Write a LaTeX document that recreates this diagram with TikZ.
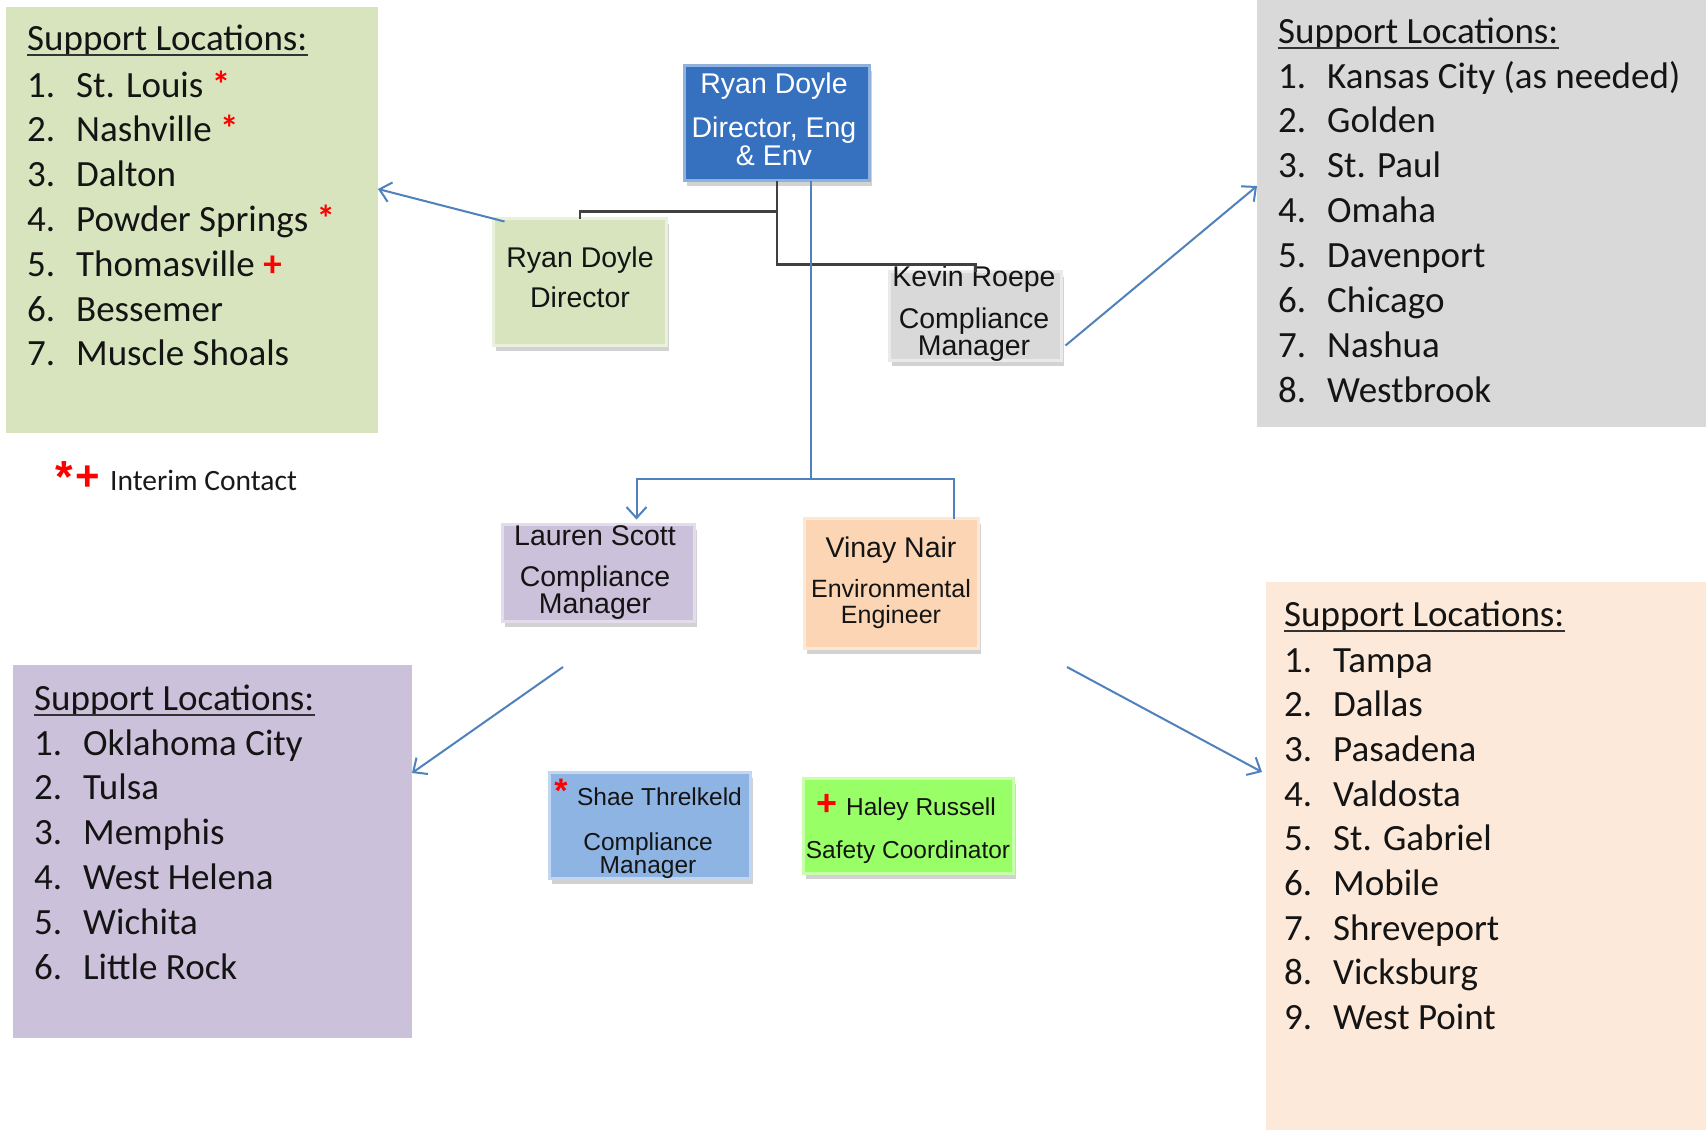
\documentclass[tikz,border=0pt]{standalone}
\usepackage{fontspec}
\usetikzlibrary{arrows.meta,calc,shadows}
\newfontfamily\listfont{Carlito}
\newfontfamily\boxfont{Liberation Sans}
\definecolor{glistc}{HTML}{D7E4BD}
\definecolor{greyc}{HTML}{D9D9D9}
\definecolor{plistc}{HTML}{CCC1DA}
\definecolor{peachc}{HTML}{FDE9D9}
\definecolor{bossc}{HTML}{3571BF}
\definecolor{vinayc}{HTML}{FCD5B5}
\definecolor{shaec}{HTML}{8EB4E3}
\definecolor{haleyc}{HTML}{99FF66}
\definecolor{linkc}{HTML}{4F81BD}
\definecolor{treec}{HTML}{404040}
\newcommand\mkast{\textcolor{red}{\textbf{*}}}
\newcommand\mkplus{\textcolor{red}{\textbf{+}}}
\begin{document}
\begin{tikzpicture}[x=1pt,y=-1pt,
  panel/.style={fill=#1, draw=none, inner sep=0, outer sep=0},
  orgbox/.style={fill=#1, draw=#1!55!white, line width=3pt, inner sep=0, outer sep=0,
    drop shadow={shadow xshift=2pt, shadow yshift=-5pt, opacity=0.35}},
  boxtxt/.style={font=\boxfont\fontsize{28.5}{30}\selectfont, anchor=base, inner sep=0, text=black!92},
  smalltxt/.style={boxtxt, font=\boxfont\fontsize{24.5}{26}\selectfont},
  listtxt/.style={font=\listfont\fontsize{37}{44}\selectfont, anchor=base west, inner sep=0, text=black!92},
  uline/.style={draw=black!80, line width=2.2pt},
  treeline/.style={draw=treec, line width=2.5pt},
  linkline/.style={draw=linkc, line width=2pt},
  linkarrow/.style={linkline, -{Straight Barb[length=11pt,width=20pt]}}
]
\useasboundingbox (0,0) rectangle (1706,1130);
\fill[white] (0,0) rectangle (1706,1130);

% location panels
\node[panel=glistc, minimum width=372, minimum height=426, anchor=north west] (glist) at (6,7) {};
\node[panel=greyc, minimum width=449, minimum height=427, anchor=north west] (grey) at (1257,0) {};
\node[panel=plistc, minimum width=399, minimum height=373, anchor=north west] (plist) at (13,665) {};
\node[panel=peachc, minimum width=440, minimum height=548, anchor=north west] (peach) at (1266,582) {};

% green panel list
\node[listtxt] (gh) at (27,50) {Support Locations:};
\draw[uline] ($(gh.base west)+(0,5)$) -- ($(gh.base east)+(0,5)$);
\foreach \t [count=\i] in {{St. Louis \mkast}, {Nashville \mkast}, Dalton, {Powder Springs \mkast}, {Thomasville \mkplus}, Bessemer, {Muscle Shoals}}
  \node[listtxt] (g\i) at (27,97+44.8*\i-44.8) {\makebox[49pt][l]{\i.}\t};

% grey panel list
\node[listtxt] (rh) at (1278,43) {Support Locations:};
\draw[uline] ($(rh.base west)+(0,5)$) -- ($(rh.base east)+(0,5)$);
\foreach \t [count=\i] in {{Kansas City (as needed)}, Golden, {St. Paul}, Omaha, Davenport, Chicago, Nashua, Westbrook}
  \node[listtxt] (r\i) at (1278,88+44.9*\i-44.9) {\makebox[49pt][l]{\i.}\t};

% purple panel list
\node[listtxt] (ph) at (34,710) {Support Locations:};
\draw[uline] ($(ph.base west)+(0,5)$) -- ($(ph.base east)+(0,5)$);
\foreach \t [count=\i] in {{Oklahoma City}, Tulsa, Memphis, {West Helena}, Wichita, {Little Rock}}
  \node[listtxt] (p\i) at (34,755+44.8*\i-44.8) {\makebox[49pt][l]{\i.}\t};

% peach panel list
\node[listtxt] (sh) at (1284,626) {Support Locations:};
\draw[uline] ($(sh.base west)+(0,5)$) -- ($(sh.base east)+(0,5)$);
\foreach \t [count=\i] in {Tampa, Dallas, Pasadena, Valdosta, {St. Gabriel}, Mobile, Shreveport, Vicksburg, {West Point}}
  \node[listtxt] (s\i) at (1284,672+44.7*\i-44.7) {\makebox[49pt][l]{\i.}\t};

% legend
\node[font=\boxfont\bfseries\fontsize{45}{45}\selectfont, text=red, anchor=base, inner sep=0] (lgast) at (64,492) {*};
\node[font=\boxfont\bfseries\fontsize{42}{42}\selectfont, text=red, anchor=base, inner sep=0] (lgplus) at (88,490) {+};
\node[font=\listfont\fontsize{29.5}{32}\selectfont, anchor=base west, inner sep=0, text=black!90] (lgtxt) at (110,490) {Interim Contact};

% people
\node[orgbox=bossc, minimum width=185, minimum height=115] (boss) at (777,123) {};
\node[orgbox=glistc, minimum width=173, minimum height=127] (rd) at (580,282) {};
\node[orgbox=greyc, minimum width=172, minimum height=89] (kevin) at (975.5,316) {};
\node[orgbox=plistc, minimum width=192, minimum height=97] (lauren) at (598.5,573) {};
\node[orgbox=vinayc, minimum width=174, minimum height=130] (vinay) at (891.5,583.5) {};
\node[orgbox=shaec, minimum width=201, minimum height=106] (shae) at (650,825.5) {};
\node[orgbox=haleyc, minimum width=210, minimum height=95] (haley) at (908.5,826) {};

\node[boxtxt, text=white] (bossA) at (774,93) {Ryan Doyle};
\node[boxtxt, text=white] (bossB) at (774,137) {Director, Eng};
\node[boxtxt, text=white] (bossC) at (774,165) {\& Env};

\node[boxtxt] (rdA) at (580,267) {Ryan Doyle};
\node[boxtxt] (rdB) at (580,307) {Director};

\node[boxtxt] (kevinA) at (974,286) {Kevin Roepe};
\node[boxtxt] (kevinB) at (974,328) {Compliance};
\node[boxtxt] (kevinC) at (974,355) {Manager};

\node[boxtxt] (laurenA) at (595,545) {Lauren Scott};
\node[boxtxt] (laurenB) at (595,586) {Compliance};
\node[boxtxt] (laurenC) at (595,613) {Manager};

\node[boxtxt] (vinayA) at (891,557) {Vinay Nair};
\node[boxtxt, font=\boxfont\fontsize{25}{27}\selectfont] (vinayB) at (891,597) {Environmental};
\node[boxtxt, font=\boxfont\fontsize{25}{27}\selectfont] (vinayC) at (891,623) {Engineer};

\node[font=\boxfont\bfseries\fontsize{34}{34}\selectfont, text=red, anchor=base, inner sep=0] (shaeast) at (561,802) {*};
\node[smalltxt] (shaeA) at (659.5,805) {Shae Threlkeld};
\node[smalltxt] (shaeB) at (648,850) {Compliance};
\node[smalltxt] (shaeC) at (648,873) {Manager};

\node[font=\boxfont\bfseries\fontsize{36}{36}\selectfont, text=red, anchor=base, inner sep=0] (haleyplus) at (827,815) {+};
\node[smalltxt] (haleyA) at (921,815) {Haley Russell};
\node[smalltxt] (haleyB) at (908,858) {Safety Coordinator};

% reporting lines
\draw[treeline] (boss.south) -- ($(boss.south)+(0,84)$) -| (kevin.north);
\draw[treeline] ($(boss.south)+(0,31)$) -| (rd.north);

\coordinate (split) at (811,479);
\draw[linkline] ($(boss.south)+(34,0)$) -- (split);
\draw[linkarrow] (split) -| ($(lauren.north west)+(134,-5)$);
\draw[linkline] (split) -| ($(vinay.north east)+(-25,0)$);

% links to the location panels
\coordinate (pstart) at (563,667);
\coordinate (qstart) at (1067,667);
\draw[linkarrow] ($(rd.north west)+(11,3)$) -- ($(glist.north east)+(0,182)$);
\draw[linkarrow] ($(kevin.south east)+(4,-15)$) -- ($(grey.north west)+(0,186)$);
\draw[linkarrow] (pstart) -- ($(plist.north east)+(0,108)$);
\draw[linkarrow] (qstart) -- ($(peach.north west)+(-4,190)$);
\end{tikzpicture}
\end{document}
